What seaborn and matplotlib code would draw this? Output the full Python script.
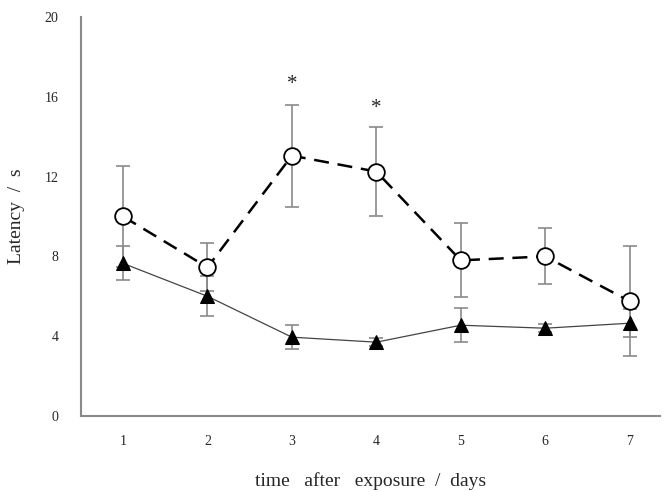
import matplotlib
matplotlib.use("Agg")
import matplotlib.pyplot as plt
import seaborn as sns
import pandas as pd

days = [1, 2, 3, 4, 5, 6, 7]
circle_mean = [10.0, 7.45, 13.05, 12.25, 7.8, 8.0, 5.75]
circle_err = [2.55, 1.2, 2.55, 2.25, 1.85, 1.4, 2.75]
tri_mean = [7.65, 6.0, 3.95, 3.7, 4.55, 4.4, 4.65]
tri_err = [0.85, 1.0, 0.6, 0.2, 0.85, 0.2, 0.7]
star_days = [3, 4]
star_y = [16.6, 15.4]

sns.set_style("white")
plt.rcParams['font.family'] = ['Liberation Serif', 'DejaVu Serif']

df_c = pd.DataFrame({'day': days, 'latency': circle_mean})
df_t = pd.DataFrame({'day': days, 'latency': tri_mean})

fig = plt.figure(figsize=(6.68, 4.92), dpi=100)
ax = fig.add_axes([0.121, 0.1545, 0.867, 0.811])

grey = '#8a8a8a'
ax.errorbar(days, circle_mean, yerr=circle_err, fmt='none', ecolor=grey,
            elinewidth=1.2, capsize=5, capthick=1.2, zorder=1)
ax.errorbar(days, tri_mean, yerr=tri_err, fmt='none', ecolor=grey,
            elinewidth=1.2, capsize=5, capthick=1.2, zorder=1)

sns.lineplot(data=df_t, x='day', y='latency', ax=ax, color='#444444',
             linewidth=0.9, marker='^', markersize=10,
             markerfacecolor='black', markeredgecolor='black', zorder=2)
sns.lineplot(data=df_c, x='day', y='latency', ax=ax, color='black',
             linewidth=1.8, dashes=False, marker='o', markersize=12,
             markerfacecolor='white', markeredgecolor='black',
             markeredgewidth=1.3, zorder=3)
ax.lines[-1].set_dashes([6, 3.5])

for d, y in zip(star_days, star_y):
    ax.text(d, y, '*', ha='center', va='center', fontsize=15)

ax.set_xlim(0.5, 7.36)
ax.set_ylim(0, 20)
ax.set_xticks(days)
ax.set_yticks([0, 4, 8, 12, 16, 20])
ax.tick_params(direction='in', length=7, width=1.2, color=grey,
               labelsize=10, pad=14)
ax.tick_params(axis='y', pad=16)
for s in ['top', 'right']:
    ax.spines[s].set_visible(False)
for s in ['left', 'bottom']:
    ax.spines[s].set_color(grey)
    ax.spines[s].set_linewidth(1.5)

ax.set_xlabel('time   after   exposure  /  days', fontsize=14, labelpad=17)
ax.set_ylabel('Latency  /  s', fontsize=14, labelpad=14)

plt.savefig('out.png', dpi=100)
plt.close()
